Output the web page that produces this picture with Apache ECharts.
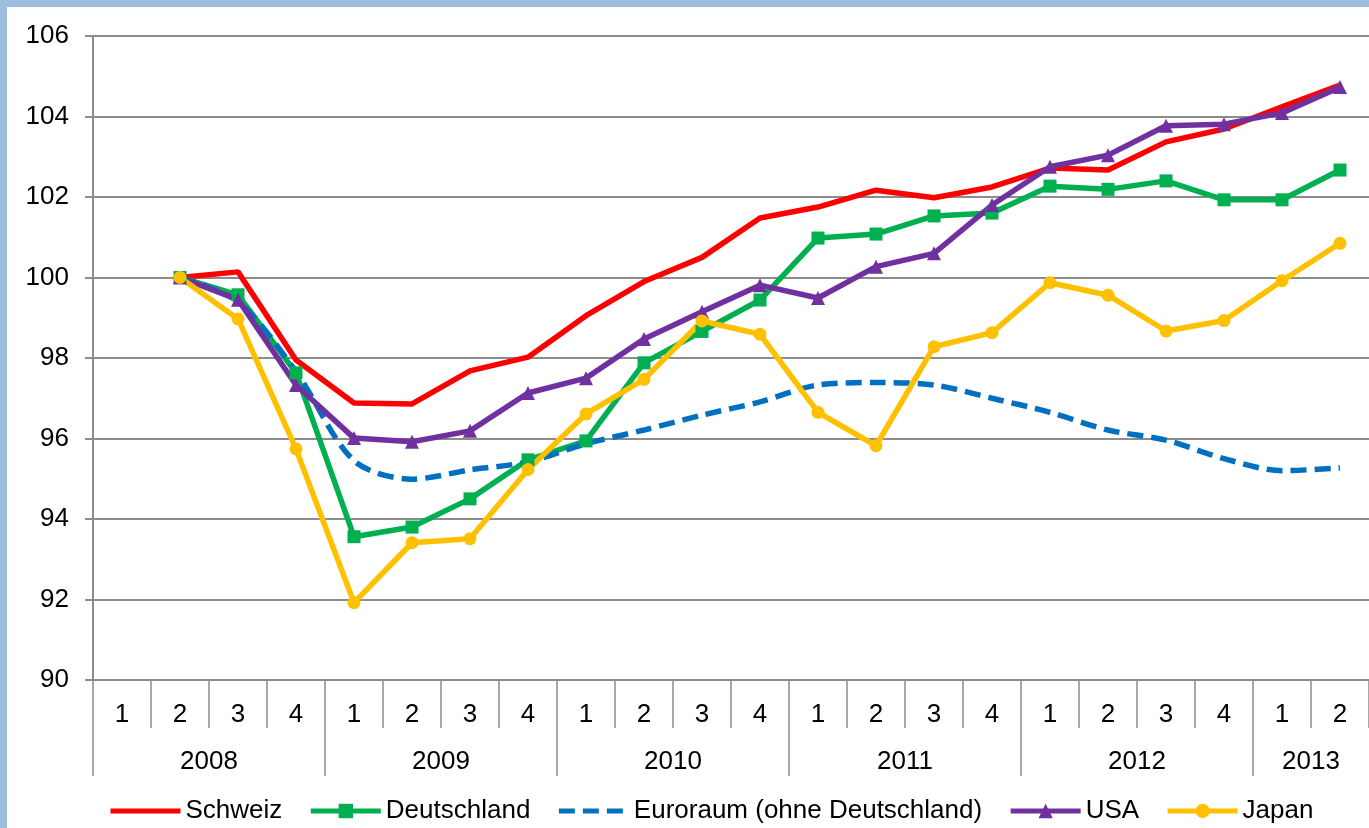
<!DOCTYPE html>
<html>
<head>
<meta charset="utf-8">
<script src="https://cdn.jsdelivr.net/npm/echarts@6/dist/echarts.min.js"></script>
<style>
  html, body { margin: 0; padding: 0; background: #fff; }
  #frame { width: 1369px; height: 828px; box-sizing: border-box; border-left: 7px solid #9dbde1; border-top: 7px solid #9dbde1; }
  #chart { width: 1362px; height: 821px; }
</style>
</head>
<body>
<div id="frame"><div id="chart"></div></div>
<script>
// Quartale 2008 Q1 .. 2013 Q2
const periods = ['2008 1','2008 2','2008 3','2008 4','2009 1','2009 2','2009 3','2009 4',
  '2010 1','2010 2','2010 3','2010 4','2011 1','2011 2','2011 3','2011 4',
  '2012 1','2012 2','2012 3','2012 4','2013 1','2013 2'];
const years = ['2008','2009','2010','2011','2012','2013'];
const yearCenters = [1.5, 5.5, 9.5, 13.5, 17.5, 20.5];
const yearBounds = [-0.5, 3.5, 7.5, 11.5, 15.5, 19.5];

const schweiz = [null, 100, 100.14, 97.95, 96.88, 96.86, 97.68, 98.02, 99.05, 99.9, 100.5, 101.48,
  101.75, 102.17, 101.98, 102.25, 102.72, 102.67, 103.37, 103.69, 104.24, 104.78];
const deutschland = [null, 100, 99.57, 97.63, 93.56, 93.8, 94.5, 95.47, 95.94, 97.88, 98.66, 99.44,
  100.98, 101.08, 101.53, 101.6, 102.27, 102.19, 102.4, 101.93, 101.93, 102.67];
const euroraum = [null, 100, 99.4, 97.66, 95.45, 94.99, 95.22, 95.42, 95.87, 96.21, 96.58, 96.91,
  97.33, 97.39, 97.33, 97.0, 96.65, 96.21, 95.96, 95.5, 95.2, 95.27];
const usa = [null, 100, 99.45, 97.33, 96.01, 95.92, 96.19, 97.13, 97.5, 98.47, 99.15, 99.81,
  99.49, 100.27, 100.6, 101.8, 102.75, 103.04, 103.77, 103.81, 104.09, 104.73];
const japan = [null, 100, 98.97, 95.74, 91.92, 93.41, 93.51, 95.23, 96.61, 97.47, 98.92, 98.59,
  96.65, 95.82, 98.28, 98.63, 99.87, 99.56, 98.67, 98.93, 99.92, 100.85];

const font = 'Liberation Sans, Arial, sans-serif';
const axisGray = '#8c8c8c';

const chart = echarts.init(document.getElementById('chart'));
chart.setOption({
  animation: false,
  textStyle: { fontFamily: font },
  grid: { left: 86, right: 0, top: 29, bottom: 148 },
  legend: {
    left: 96, top: 786,
    itemWidth: 70, itemHeight: 18, itemGap: 26,
    lineStyle: { width: 5 },
    textStyle: { fontSize: 26, color: '#000', fontFamily: font },
    data: [
      { name: 'Schweiz', itemStyle: { opacity: 0 } },
      { name: 'Deutschland' },
      { name: 'Euroraum (ohne Deutschland)', itemStyle: { opacity: 0 } },
      { name: 'USA' },
      { name: 'Japan' }
    ]
  },
  xAxis: [{
    type: 'category',
    data: periods,
    boundaryGap: true,
    axisLine: { show: true, onZero: false, lineStyle: { color: axisGray, width: 2 } },
    axisTick: { show: true, interval: 0, length: 48, lineStyle: { color: axisGray, width: 1.5 } },
    axisLabel: { interval: 0, margin: 22, fontSize: 26, color: '#000', fontFamily: font,
      formatter: v => v.split(' ')[1] },
    splitLine: { show: false }
  }, {
    type: 'value',
    min: -0.5, max: 21.5,
    position: 'bottom',
    axisLine: { show: false, onZero: false },
    axisTick: { show: true, length: 96, customValues: yearBounds, lineStyle: { color: axisGray, width: 1.5 } },
    axisLabel: { margin: 69, fontSize: 26, color: '#000', fontFamily: font,
      customValues: yearCenters,
      formatter: v => years[yearCenters.indexOf(v)] },
    splitLine: { show: false }
  }],
  yAxis: {
    type: 'value',
    min: 90, max: 106, interval: 2,
    axisLine: { show: true, onZero: false, lineStyle: { color: axisGray, width: 2 } },
    axisTick: { show: true, length: 8, lineStyle: { color: axisGray, width: 2 } },
    axisLabel: { margin: 24, fontSize: 26, color: '#000', fontFamily: font },
    splitLine: { lineStyle: { color: axisGray, width: 2 } }
  },
  series: [
    { name: 'Schweiz', type: 'line', data: schweiz, symbol: 'none',
      lineStyle: { color: '#ff0000', width: 5.5 }, itemStyle: { color: '#ff0000' } },
    { name: 'Deutschland', type: 'line', data: deutschland, symbol: 'rect', symbolSize: 13,
      lineStyle: { color: '#00b050', width: 5.5 }, itemStyle: { color: '#00b050' } },
    { name: 'Euroraum (ohne Deutschland)', type: 'line', data: euroraum, symbol: 'none', smooth: 0.3,
      lineStyle: { color: '#0070c0', width: 5.5, type: [16, 8] }, itemStyle: { color: '#0070c0' } },
    { name: 'USA', type: 'line', data: usa, symbol: 'triangle', symbolSize: 14,
      lineStyle: { color: '#7030a0', width: 5.5 }, itemStyle: { color: '#7030a0' } },
    { name: 'Japan', type: 'line', data: japan, symbol: 'circle', symbolSize: 13,
      lineStyle: { color: '#ffc000', width: 5.5 }, itemStyle: { color: '#ffc000' } }
  ]
});
</script>
</body>
</html>
